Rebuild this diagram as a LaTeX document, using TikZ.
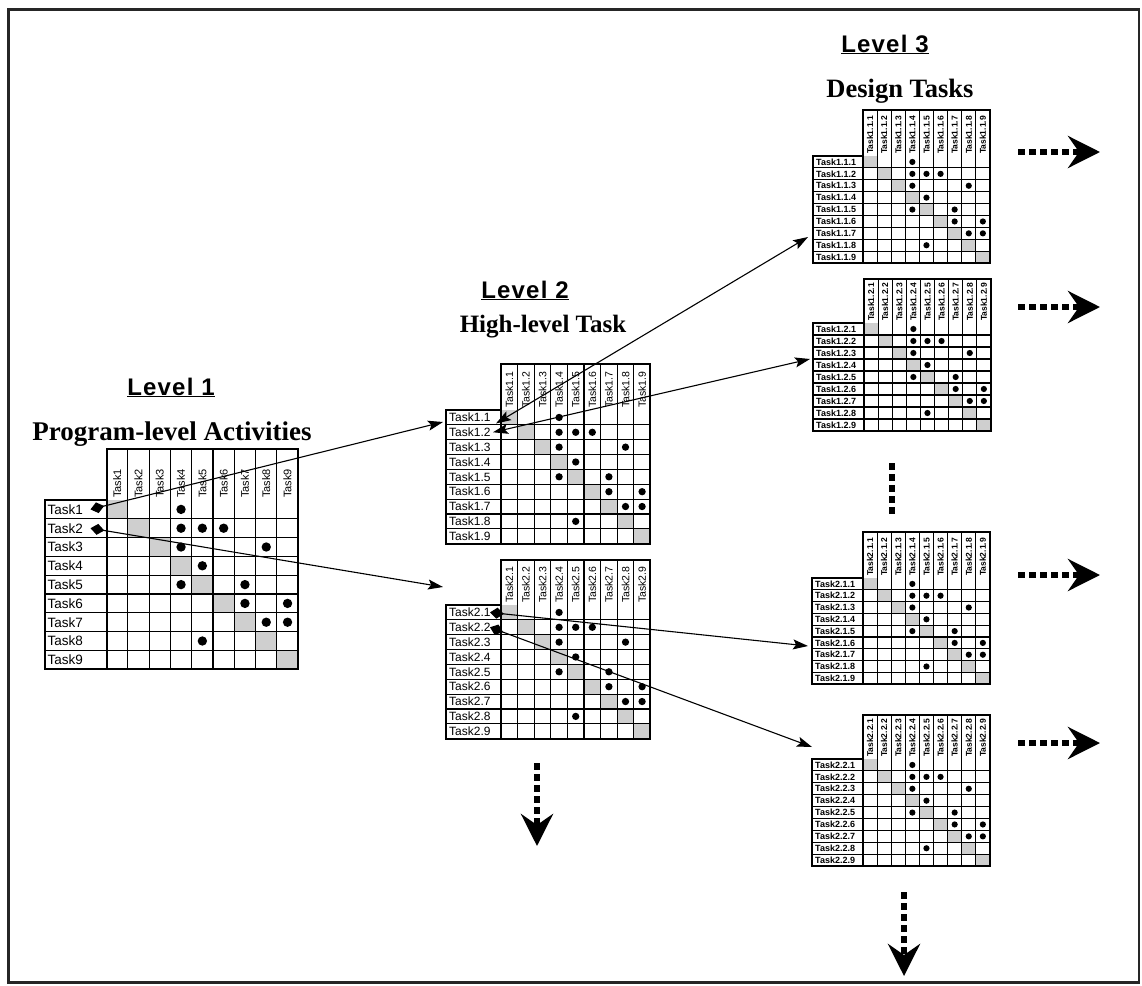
\documentclass[tikz,border=0pt]{standalone}
\usepackage{fontspec}
\setmainfont{Liberation Sans}
\newfontfamily\titleserif{Liberation Serif}
\newfontfamily\titlesans[LetterSpace=5]{Liberation Sans}
\usetikzlibrary{arrows.meta}

\tikzset{
  thinline/.style={line width=1.1pt},
  thickline/.style={line width=2pt},
  diagcell/.style={fill=gray!38},
  rowlabel/.style={inner sep=0pt, anchor=west},
  collabel/.style={inner sep=0pt, rotate=90, anchor=west},
  lonerow/.style={font=\fontsize{13.5}{14}\selectfont},
  lonecol/.style={font=\fontsize{11}{12}\selectfont},
  ltworow/.style={font=\fontsize{12}{13}\selectfont},
  ltwocol/.style={font=\fontsize{10.5}{11}\selectfont},
  lthreerow/.style={font=\fontsize{9}{10}\selectfont\bfseries},
  lthreecol/.style={font=\fontsize{8.5}{9}\selectfont\bfseries},
  leveltitle/.style={font=\titlesans\fontsize{24}{26}\selectfont\bfseries, anchor=base},
  levelsub/.style={font=\titleserif\fontsize{25}{28}\selectfont\bfseries, anchor=base},
  dsmdia/.tip={Diamond[length=14pt,width=11pt]},
  dsmhead/.tip={Stealth[length=15pt,width=10pt,inset=3pt]},
  link/.style={line width=1.1pt},
  moredots/.style={line width=6.5pt, dash pattern=on 6.5pt off 4.5pt,
    -{Stealth[length=32pt,width=32pt,inset=11pt]}},
}

% DSM: #1 Name, #2/#3 Gitter links oben, #4 Spaltenbreite, #5 Zeilenhoehe,
% #6 Kopfhoehe, #7 Breite Zeilenkopf, #8 Praefix, #9 Schriftstil
\newcommand{\dsm}[9]{%
  \begin{scope}[shift={(#2,#3)}]
    % Diagonale
    \foreach \i in {1,...,9}
      \fill[diagcell] ({(\i-1)*#4},{(\i-1)*#5}) rectangle ++(#4,#5);
    % Abhaengigkeiten
    \foreach \r/\c in {1/4,2/4,2/5,2/6,3/4,3/8,4/5,5/4,5/7,6/7,6/9,7/8,7/9,8/5}
      \fill ({(\c-0.5)*#4},{(\r-0.5)*#5}) circle ({0.22*#4});
    % Gitter
    \foreach \i in {1,...,8} {
      \draw[thinline] ({\i*#4},{-#6}) -- ({\i*#4},{9*#5});
      \draw[thinline] ({-#7},{\i*#5}) -- ({9*#4},{\i*#5});
    }
    \draw[thickline] (0,{-#6}) rectangle ({9*#4},{9*#5});
    \draw[thickline] ({-#7},0) rectangle (0,{9*#5});
    % Beschriftung
    \foreach \i in {1,...,9} {
      \coordinate (#1-g\i) at (0,{(\i-0.5)*#5});
      \node[rowlabel,#9row] (#1-r\i) at ({-#7+3},{(\i-0.5)*#5}) {#8\i};
      \node[collabel,#9col] (#1-c\i) at ({(\i-0.5)*#4},-2) {#8\i};
    }
  \end{scope}}

\begin{document}
\begin{tikzpicture}[x=1pt,y=-1pt]
    \useasboundingbox (0,0) rectangle (1142,985);
    \draw[line width=2.4pt, black!85] (8.5,9.5) rectangle (1139,982.5);

    % Titel
    \node[leveltitle] (t1) at (171,395) {\underline{Level 1}};
    \node[levelsub, font=\titleserif\fontsize{27}{30}\selectfont\bfseries] (s1) at (172,440) {Program-level Activities};
    \node[leveltitle] (t2) at (525,298) {\underline{Level 2}};
    \node[levelsub] (s2) at (543,332) {High-level Task};
    \node[leveltitle] (t3) at (885,52) {\underline{Level 3}};
    \node[levelsub, font=\titleserif\fontsize{26.5}{29}\selectfont\bfseries] (s3) at (900,97) {Design Tasks};

    % Matrizen
    \dsm{A}{106.5}{500}{21.3}{18.8}{51}{62}{Task}{lone}
    \dsm{B}{501}{410}{16.6}{14.85}{46}{55}{Task1.}{ltwo}
    \dsm{C}{501}{605}{16.6}{14.85}{45}{55}{Task2.}{ltwo}
    \dsm{D}{863}{156}{14.1}{11.9}{46}{50}{Task1.1.}{lthree}
    \dsm{E}{864}{323}{14.1}{12}{44}{51}{Task1.2.}{lthree}
    \dsm{F}{863}{578}{14.1}{11.8}{46}{51}{Task2.1.}{lthree}
    \dsm{G}{863}{759}{14.1}{11.9}{44}{51}{Task2.2.}{lthree}

    % Zielpunkte
    \coordinate (t-B) at (443,422);
    \coordinate (t-C) at (443,587);
    \coordinate (t-D) at (808,237);
    \coordinate (t-E) at (810,359);
    \coordinate (t-F) at (808,646);
    \coordinate (t-G) at (812,747);

    % Zerlegung
    \draw[link, dsmdia-dsmhead] ([xshift=-16pt]A-g1) -- (t-B);
    \draw[link, dsmdia-dsmhead] ([xshift=-16pt]A-g2) -- (t-C);
    \draw[link, dsmhead-dsmhead] ([shift={(-5pt,-6pt)}]B-g1) -- (t-D);
    \draw[link, dsmhead-dsmhead] ([xshift=-8pt]B-g2) -- (t-E);
    \draw[link, dsmdia-dsmhead] ([xshift=-11pt]C-g1) -- (t-F);
    \draw[link, dsmdia-dsmhead] ([xshift=-11pt]C-g2) -- (t-G);

    % Fortsetzung
    \foreach \y in {152,307,575,743}
      \draw[moredots] (1018,\y) -- (1100,\y);
    \draw[moredots] (537,763) -- (537,846);
    \draw[moredots] (904,892) -- (904,976);
    \draw[line width=6.5pt, dash pattern=on 6.5pt off 4.5pt] (892,463) -- (892,514);
\end{tikzpicture}
\end{document}
